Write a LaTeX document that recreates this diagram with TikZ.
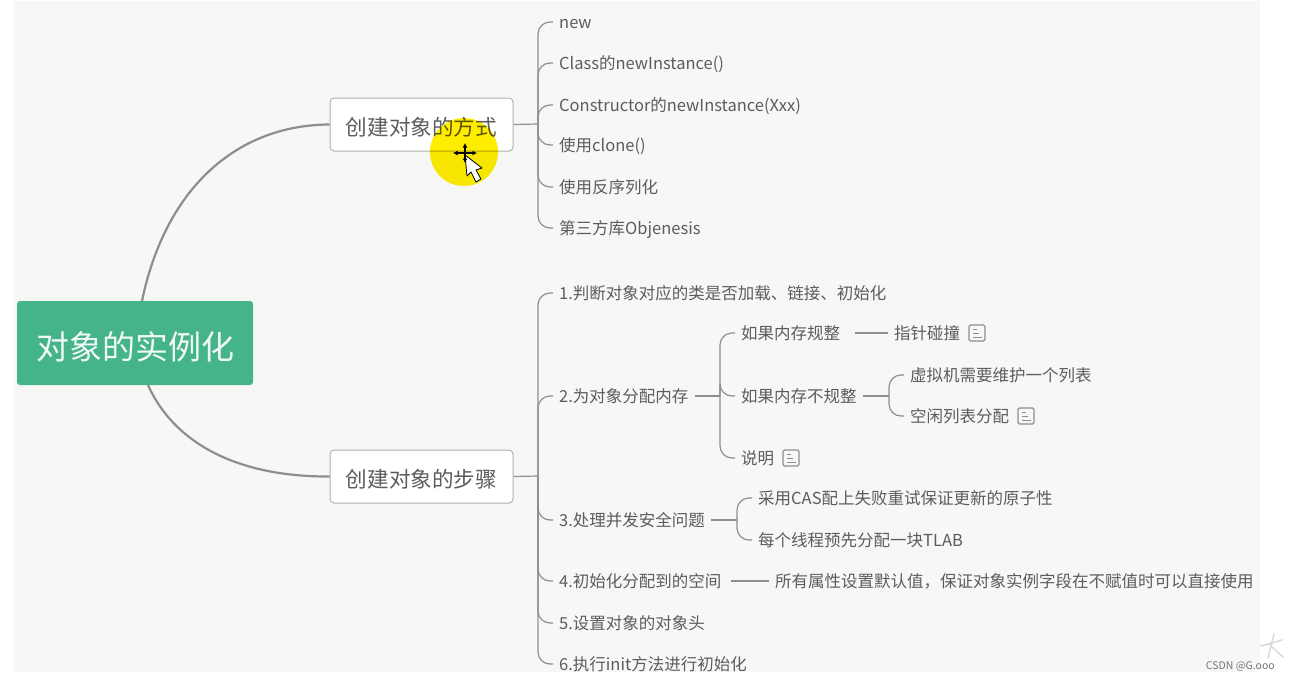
\documentclass[tikz,border=0pt]{standalone}
\usepackage{fontspec}
\setmainfont{Noto Sans CJK SC}
\usetikzlibrary{positioning, arrows.meta}
\definecolor{paper}{HTML}{F7F8F6}
\definecolor{rootgreen}{HTML}{45B48A}
\definecolor{inkgray}{HTML}{5C5C5C}
\definecolor{linegray}{HTML}{8E8E8C}
\tikzset{
  x=1pt,
  y=-1pt,
  rootbox/.style={draw=none, fill=rootgreen, rounded corners=3pt, text=white!92!rootgreen,
    minimum width=236pt, minimum height=84pt, inner sep=0pt, text height=33pt, text depth=0pt,
    font=\fontsize{33}{38}\selectfont},
  topicbox/.style={draw=linegray!70, fill=white, line width=1pt, rounded corners=4pt, text=inkgray,
    minimum width=183pt, minimum height=53pt, inner sep=0pt, text height=21.4pt, text depth=0pt,
    font=\fontsize{21.6}{26}\selectfont},
  item/.style={anchor=west, inner xsep=6pt, inner ysep=0pt, text=inkgray, text height=13pt, text depth=1pt,
    font=\fontsize{16.5}{20}\selectfont},
  noteicon/.style={draw=linegray, line width=1.2pt, rounded corners=1.5pt, minimum size=16pt, inner sep=0pt,
    path picture={
      \draw[linegray, line width=1pt]
        ([xshift=-4pt,yshift=4pt]path picture bounding box.center) -- ++(3.5,0)
        ([xshift=-4pt,yshift=0pt]path picture bounding box.center) -- ++(6,0)
        ([xshift=-4pt,yshift=-4pt]path picture bounding box.center) -- ++(8.5,0);
    }},
  limb/.style={draw=linegray, line width=2.2pt},
  twig/.style={draw=linegray, line width=1.2pt, rounded corners=12pt},
  moveline/.style={black, line width=1.4pt, {Latex[length=4.5pt,width=5pt]}-{Latex[length=4.5pt,width=5pt]}},
}

\begin{document}
\begin{tikzpicture}
  \useasboundingbox (0,0) rectangle (1290,680);
  \fill[paper] (14,1) rectangle (1260,672);

  \node[rootbox]  (root)  at (135,343) {对象的实例化};
  \node[topicbox] (ways)  at (421.5,124.5) {创建对象的方式};
  \node[topicbox] (steps) at (421.5,476.5) {创建对象的步骤};

  % first topic
  \node[item] (w1) at (553,22)  {new};
  \node[item] (w2) at (553,63)  {Class的newInstance()};
  \node[item] (w3) at (553,105) {Constructor的newInstance(Xxx)};
  \node[item] (w4) at (553,145) {使用clone()};
  \node[item] (w5) at (553,187) {使用反序列化};
  \node[item] (w6) at (553,228) {第三方库Objenesis};

  % second topic
  \node[item] (s1) at (553,293) {1.判断对象对应的类是否加载、链接、初始化};
  \node[item] (s2) at (553,396) {2.为对象分配内存};
  \node[item] (s3) at (553,520) {3.处理并发安全问题};
  \node[item] (s4) at (553,581) {4.初始化分配到的空间};
  \node[item] (s5) at (553,623) {5.设置对象的对象头};
  \node[item] (s6) at (553,664) {6.执行init方法进行初始化};

  \node[item] (m1) at (735,333) {如果内存规整};
  \node[item] (m2) at (735,396) {如果内存不规整};
  \node[item] (m3) at (735,458) {说明};
  \node[item] (p1) at (888,333) {指针碰撞};
  \node[item] (f1) at (904,375) {虚拟机需要维护一个列表};
  \node[item] (f2) at (904,416) {空闲列表分配};
  \node[item] (c1) at (752,498) {采用CAS配上失败重试保证更新的原子性};
  \node[item] (c2) at (752,540) {每个线程预先分配一块TLAB};
  \node[item] (d1) at (769,581) {所有属性设置默认值，保证对象实例字段在不赋值时可以直接使用};

  \node[noteicon, right=2pt of p1] (n1) {};
  \node[noteicon, right=2pt of f2] (n2) {};
  \node[noteicon, right=2pt of m3] (n3) {};

  \coordinate (rootup)  at (142,301);
  \coordinate (rootlow) at (148,385);
  \coordinate (busw) at (538,124);
  \coordinate (buss) at (538,476);
  \coordinate (busm) at (720,396);
  \coordinate (busf) at (889,396);
  \coordinate (busc) at (737,520);

  \draw[limb] (rootup) .. controls (165,190) and (235,125) .. (ways.west);
  \draw[limb] (rootlow) .. controls (175,445) and (240,477) .. (steps.west);

  \draw[twig] (ways.east) -- (busw);
  \draw[twig] (steps.east) -- (buss);
  \draw[twig] (s2.east) -- (busm);
  \draw[twig] (m2.east) -- (busf);
  \draw[twig] (s3.east) -- (busc);
  \foreach \kid in {w1,w2,w3,w4,w5,w6}
    \draw[twig] (busw) -- (busw |- \kid.west) -- (\kid.west);
  \foreach \kid in {s1,s2,s3,s4,s5,s6}
    \draw[twig] (buss) -- (buss |- \kid.west) -- (\kid.west);
  \foreach \kid in {m1,m2,m3}
    \draw[twig] (busm) -- (busm |- \kid.west) -- (\kid.west);
  \foreach \kid in {f1,f2}
    \draw[twig] (busf) -- (busf |- \kid.west) -- (\kid.west);
  \foreach \kid in {c1,c2}
    \draw[twig] (busc) -- (busc |- \kid.west) -- (\kid.west);
  \draw[twig, shorten <=9pt] (m1) -- (p1);
  \draw[twig, shorten <=3pt] (s4) -- (d1);

  % pointer highlight
  \fill[yellow!95!orange, blend mode=multiply] (464,152) circle (34);
  \draw[black, fill=white, line width=0.8pt, line join=round]
    (465,155) -- (467,176) -- (471,172) -- (476,182) -- (481,179) -- (476,170) -- (482,168) -- cycle;
  \draw[moveline] (453,153) -- (477,153);
  \draw[moveline] (465,143) -- (465,163);

  % watermark
  \draw[black!14, line width=1.6pt, line cap=round] (1274,634) -- (1268,658) (1261,646) -- (1282,640) (1270,645) -- (1283,657);
  \node[anchor=east, inner sep=0pt, text=black!55, font=\fontsize{10.5}{12}\selectfont] (mark) at (1275,666) {CSDN @G.ooo};
\end{tikzpicture}
\end{document}
